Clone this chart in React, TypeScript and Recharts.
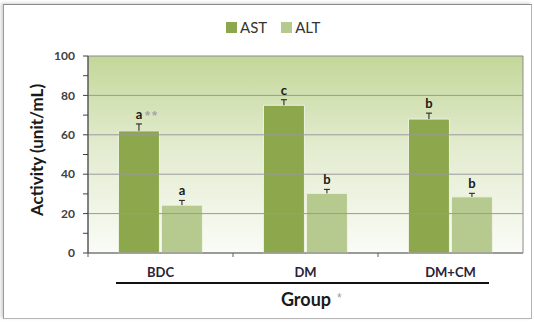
import React from 'react';
import {
  BarChart,
  Bar,
  XAxis,
  YAxis,
  ReferenceArea,
  ReferenceLine,
  Legend,
  LabelList,
  Label,
} from 'recharts';

// Serum enzyme activity per group
const groups = ['BDC', 'DM', 'DM+CM'];
const astValues = [62, 75, 68];
const altValues = [24.3, 30.3, 28.5];
const astErrors = [3.5, 2.8, 3.0];
const altErrors = [2.4, 2.0, 1.8];
const astLetters = ['a', 'c', 'b'];
const altLetters = ['a', 'b', 'b'];
const yTicks = [0, 10, 20, 30, 40, 50, 60, 70, 80, 90, 100];
const gridValues = [20, 40, 60, 80];

const data = groups.map((group, i) => ({
  group,
  AST: astValues[i],
  ALT: altValues[i],
  astErr: astErrors[i],
  altErr: altErrors[i],
  astSig: astLetters[i],
  altSig: altLetters[i],
}));

const FONT = 'Lato, "Open Sans", sans-serif';
const STAR_FONT = '"Liberation Sans", Arial, sans-serif';
const AST_COLOR = '#8da74c';
const ALT_COLOR = '#b6ca8f';

// Draws the upper whisker (SD) and the significance letter above each bar
const makeWhisker = (valueKey: string, errKey: string, sigKey: string, stars: boolean) => (props: any) => {
  const vb = props.viewBox || props;
  const x = vb.x ?? props.x;
  const y = vb.y ?? props.y;
  const width = vb.width ?? props.width;
  const height = vb.height ?? props.height;
  const index = props.index;
  const row = data[index] as any;
  if (!row) return null;
  const value = row[valueKey];
  const err = row[errKey];
  const pxPerUnit = height / value;
  const cx = x + width / 2;
  const top = y - err * pxPerUnit;
  return (
    <g>
      <line x1={cx} x2={cx} y1={y} y2={top} stroke="#1a1a1a" strokeWidth={1} />
      <line x1={cx - 3} x2={cx + 3} y1={top} y2={top} stroke="#1a1a1a" strokeWidth={1} />
      <text
        x={cx}
        y={top - 5}
        textAnchor="middle"
        fontFamily={FONT}
        fontWeight={700}
        fontSize={13}
        fill="#1a1a1a"
      >
        {row[sigKey]}
      </text>
      {stars && index === 0 ? (
        <text
          x={cx + 6}
          y={top - 4}
          textAnchor="start"
          fontFamily={STAR_FONT}
          fontWeight={700}
          fontSize={13}
          fill="#a6a6a6"
          letterSpacing={2}
        >
          **
        </text>
      ) : null}
    </g>
  );
};

const GroupTick = (props: any) => {
  const { x, y, payload, index } = props;
  const off = payload && typeof payload.offset === 'number' ? payload.offset : 0;
  return (
    <g>
      <text
        x={x}
        y={y + 24}
        textAnchor="middle"
        fontFamily={FONT}
        fontWeight={700}
        fontSize={13}
        fill="#2a2238"
      >
        {payload.value}
      </text>
      {index === 0 && off ? (
        <line x1={x - off} x2={x - off} y1={y} y2={y + 4} stroke="#606060" />
      ) : null}
      {index < groups.length - 1 && off ? (
        <line x1={x + off} x2={x + off} y1={y} y2={y + 4} stroke="#606060" />
      ) : null}
    </g>
  );
};

const LegendBox = () => (
  <div
    style={{
      display: 'flex',
      alignItems: 'center',
      height: 20,
      fontFamily: FONT,
      fontSize: 15,
      color: '#333',
      whiteSpace: 'nowrap',
    }}
  >
    <span style={{ width: 11, height: 11, background: AST_COLOR, display: 'inline-block', marginRight: 3 }} />
    <span>AST</span>
    <span style={{ width: 11, height: 11, background: ALT_COLOR, display: 'inline-block', marginLeft: 14, marginRight: 3 }} />
    <span>ALT</span>
  </div>
);

export default function App() {
  return (
    <div style={{ position: 'absolute', left: 0, top: 0, width: 534, height: 322, background: '#fff' }}>
      <div
        style={{
          position: 'absolute',
          left: 3,
          top: 4,
          width: 527,
          height: 313,
          border: '1px solid #b4b4b4',
          borderTopColor: '#8a8a8a',
          borderLeftColor: '#9a9a9a',
          boxShadow: '-2px -1px 3px rgba(0,0,0,0.18)',
        }}
      />
      <svg width={0} height={0} style={{ position: 'absolute' }}>
        <defs>
          <linearGradient id="plotBg" x1="0" y1="0" x2="0" y2="1">
            <stop offset="0%" stopColor="#c3d799" />
            <stop offset="45%" stopColor="#e2ebce" />
            <stop offset="100%" stopColor="#fafcf6" />
          </linearGradient>
        </defs>
      </svg>
      <div style={{ position: 'absolute', left: 0, top: 0 }}>
        <BarChart
          width={534}
          height={322}
          data={data}
          margin={{ top: 36, right: 11, left: 0, bottom: 0 }}
          barCategoryGap="21%"
          barGap={2}
        >
          <Legend
            verticalAlign="top"
            align="left"
            content={LegendBox}
            wrapperStyle={{ top: 17, left: 226, width: 110, height: 20 }}
          />
          <XAxis
            dataKey="group"
            height={69}
            tickLine={false}
            tickSize={0}
            tickMargin={0}
            axisLine={{ stroke: '#707070' }}
            tick={GroupTick}
            interval={0}
          >
            <Label
              content={() => (
                <g>
                  <line x1={116} x2={489} y1={283} y2={283} stroke="#111" strokeWidth={2} />
                  <text
                    x={306}
                    y={306}
                    textAnchor="middle"
                    fontFamily={FONT}
                    fontWeight={700}
                    fontSize={18}
                    fill="#1a1a1a"
                  >
                    Group
                  </text>
                  <text x={337} y={302} fontFamily={STAR_FONT} fontSize={12} fill="#9a9a9a">
                    *
                  </text>
                </g>
              )}
            />
          </XAxis>
          <YAxis
            width={88}
            domain={[0, 100]}
            ticks={yTicks}
            interval={0}
            tickSize={5}
            tickMargin={8}
            tickFormatter={(v: number) => (v % 20 === 0 ? String(v) : '')}
            tick={{ fontFamily: FONT, fontWeight: 700, fontSize: 12, fill: '#404040' }}
            tickLine={{ stroke: '#404040' }}
            axisLine={{ stroke: '#404040' }}
          >
            <Label
              content={() => (
                <text
                  x={43}
                  y={150}
                  transform="rotate(-90 43 150)"
                  textAnchor="middle"
                  fontFamily={FONT}
                  fontWeight={700}
                  fontSize={17}
                  fill="#1a1a1a"
                >
                  Activity (unit/mL)
                </text>
              )}
            />
          </YAxis>
          <ReferenceArea y1={0} y2={100} fill="url(#plotBg)" fillOpacity={1} stroke="#8c8c8c" strokeWidth={1} />
          {gridValues.map((v) => (
            <ReferenceLine key={v} y={v} stroke="#9a9a9a" strokeWidth={1} />
          ))}
          <Bar dataKey="AST" fill={AST_COLOR} stroke="#eef3e2" strokeWidth={1} isAnimationActive={false}>
            <LabelList dataKey="astSig" content={makeWhisker('AST', 'astErr', 'astSig', true)} />
          </Bar>
          <Bar dataKey="ALT" fill={ALT_COLOR} stroke="#eef3e2" strokeWidth={1} isAnimationActive={false}>
            <LabelList dataKey="altSig" content={makeWhisker('ALT', 'altErr', 'altSig', false)} />
          </Bar>
        </BarChart>
      </div>
    </div>
  );
}
